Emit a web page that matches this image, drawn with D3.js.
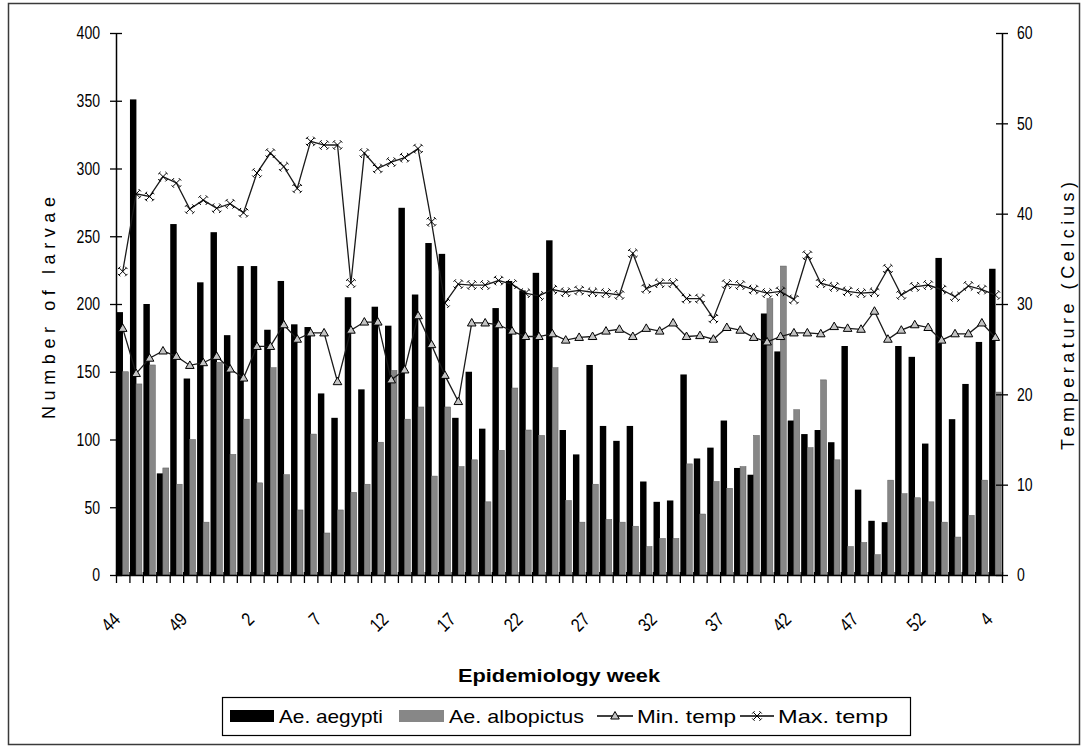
<!DOCTYPE html>
<html>
<head>
<meta charset="utf-8">
<script src="https://cdn.jsdelivr.net/npm/d3@7"></script>
<style>
  html, body { margin: 0; padding: 0; background: #fff; }
  svg { display: block; }
  text { fill: #000; font-family: "Liberation Sans", Arial, sans-serif; }
</style>
</head>
<body>
<svg id="chart" width="1084" height="752"></svg>
<script>
// Epidemiology weeks (week 44 through week 4 two years later)
const weeks = ["44","45","46","47","48","49","50","51","52",
  "1","2","3","4","5","6","7","8","9","10","11","12","13","14","15","16","17","18","19","20",
  "21","22","23","24","25","26","27","28","29","30","31","32","33","34","35","36","37","38","39","40",
  "41","42","43","44","45","46","47","48","49","50","51","52","53",
  "1","2","3","4"];

// Weekly larvae counts
const aegypti = [194,351,200,75,259,145,216,253,177,228,228,181,217,185,183,134,116,205,137,198,
  184,271,207,245,237,116,150,108,197,217,210,223,247,107,89,155,110,99,110,69,
  54,55,148,86,94,114,79,74,193,165,114,104,107,98,169,63,40,39,169,161,
  97,234,115,141,172,226];
const albopictus = [150,141,155,79,67,100,39,157,89,115,68,153,74,48,104,31,48,61,67,98,
  151,115,124,73,124,80,85,54,92,138,107,103,153,55,39,67,41,39,36,21,
  27,27,82,45,69,64,80,103,204,228,122,94,144,85,21,24,15,70,60,57,
  54,39,28,44,70,135];

// Weekly temperatures (Celcius)
const minTemp = [27.3,22.3,24.0,24.8,24.2,23.2,23.5,24.2,22.8,21.8,25.3,25.3,27.7,26.1,26.8,26.8,21.4,27.1,28.0,28.0,
  21.6,22.7,28.7,25.5,22.1,19.2,27.9,27.9,27.7,27.0,26.4,26.4,26.7,26.0,26.3,26.4,27.0,27.2,26.4,27.3,
  27.0,27.9,26.4,26.5,26.1,27.4,27.1,26.3,25.8,26.4,26.8,26.8,26.7,27.5,27.3,27.2,29.2,26.1,27.1,27.7,
  27.4,26.0,26.7,26.7,27.9,26.3];
const maxTemp = [33.6,42.2,41.9,44.1,43.4,40.5,41.5,40.6,41.1,40.1,44.5,46.7,45.2,42.8,48.0,47.6,47.6,32.3,46.7,45.0,
  45.7,46.2,47.2,39.1,30.1,32.2,32.1,32.1,32.6,32.2,31.2,30.9,31.6,31.3,31.5,31.3,31.2,31.0,35.6,31.7,
  32.3,32.3,30.6,30.6,28.4,32.2,32.1,31.6,31.2,31.4,30.5,35.4,32.3,31.9,31.4,31.2,31.3,33.9,31.0,31.9,
  32.1,31.6,30.8,32.0,31.6,31.0];

// Axis ticks
const larvaeTicks = [0,50,100,150,200,250,300,350,400];
const tempTicks = [0,10,20,30,40,50,60];
const weekTickIdx = [0,5,10,15,20,25,30,35,40,45,50,55,60,65];

const seriesNames = ["Ae. aegypti","Ae. albopictus","Min. temp","Max. temp"];

const svg = d3.select("#chart");
const plot = { left: 116, right: 1002, top: 33, bottom: 575 };

// squeeze text horizontally to imitate a narrow face
function condense(sel, f) {
  sel.each(function () {
    const L = this.getComputedTextLength();
    d3.select(this).attr("textLength", L * f).attr("lengthAdjust", "spacingAndGlyphs");
  });
}

// outer frame
svg.append("rect")
  .attr("x", 8.5).attr("y", 3.5).attr("width", 1071).attr("height", 741)
  .attr("fill", "#fff").attr("stroke", "#3a3a3a").attr("stroke-width", 1.5);

const idx = d3.range(weeks.length);
const x = d3.scaleBand().domain(idx).range([plot.left, plot.right]).padding(0);
const xEdge = d3.scaleLinear().domain([0, weeks.length]).range([plot.left, plot.right]);
const yL = d3.scaleLinear().domain([0, 400]).range([plot.bottom, plot.top]);
const yR = d3.scaleLinear().domain([0, 60]).range([plot.bottom, plot.top]);
const bw = x.bandwidth();
const cx = i => x(i) + bw / 2;

// bars
const bars = svg.append("g");
bars.selectAll("rect.aeg").data(idx).join("rect")
  .attr("class", "aeg")
  .attr("x", i => x(i) + bw * 0.04)
  .attr("width", bw * 0.48)
  .attr("y", i => yL(aegypti[i]))
  .attr("height", i => yL(0) - yL(aegypti[i]))
  .attr("fill", "#000");
bars.selectAll("rect.alb").data(idx).join("rect")
  .attr("class", "alb")
  .attr("x", i => x(i) + bw * 0.49)
  .attr("width", bw * 0.44)
  .attr("y", i => yL(albopictus[i]))
  .attr("height", i => yL(0) - yL(albopictus[i]))
  .attr("fill", "#878787")
  .attr("stroke", "#5a5a5a").attr("stroke-width", 0.5);

// temperature lines
const line = d3.line().x((d, i) => cx(i)).y(d => yR(d));
svg.append("path").datum(minTemp).attr("d", line)
  .attr("fill", "none").attr("stroke", "#1a1a1a").attr("stroke-width", 1.3);
svg.append("path").datum(maxTemp).attr("d", line)
  .attr("fill", "none").attr("stroke", "#1a1a1a").attr("stroke-width", 1.3);

const triPath = "M0,-4.5L4.3,3L-4.3,3Z";
const crossPath = "M-3.6,-3.6L3.6,3.6M-3.6,3.6L3.6,-3.6M-4.8,-2.4L-2.4,-4.8M2.4,-4.8L4.8,-2.4M-4.8,2.4L-2.4,4.8M2.4,4.8L4.8,2.4";

svg.append("g").selectAll("path").data(minTemp).join("path")
  .attr("d", triPath)
  .attr("transform", (d, i) => `translate(${cx(i)},${yR(d)})`)
  .attr("fill", "#c4c4c4").attr("stroke", "#000").attr("stroke-width", 1);
svg.append("g").selectAll("path").data(maxTemp).join("path")
  .attr("d", crossPath)
  .attr("transform", (d, i) => `translate(${cx(i)},${yR(d)})`)
  .attr("fill", "none").attr("stroke", "#000").attr("stroke-width", 1);

// left axis
const axL = svg.append("g").attr("transform", `translate(${plot.left},0)`)
  .call(d3.axisLeft(yL).tickValues(larvaeTicks).tickSize(6).tickSizeOuter(0).tickPadding(10));
axL.selectAll(".tick line").attr("x1", 6);
// right axis
const axR = svg.append("g").attr("transform", `translate(${plot.right},0)`)
  .call(d3.axisRight(yR).tickValues(tempTicks).tickSize(6).tickSizeOuter(0).tickPadding(9));
axR.selectAll(".tick line").attr("x1", -6);
// bottom axis (ticks on category boundaries)
const axB = svg.append("g").attr("transform", `translate(0,${plot.bottom})`)
  .call(d3.axisBottom(xEdge).tickValues(d3.range(weeks.length + 1)).tickSize(8).tickSizeOuter(0).tickFormat(""));
axB.selectAll(".tick line").attr("y1", -3);

[axL, axR, axB].forEach(a => {
  a.select(".domain").attr("stroke", "#000").attr("stroke-width", 1.5);
  a.selectAll(".tick line").attr("stroke", "#000").attr("stroke-width", 1.3);
  a.selectAll("text").attr("font-family", "Liberation Sans, Arial, sans-serif")
    .attr("font-size", 18).attr("fill", "#000");
});
condense(axL.selectAll("text"), 0.78);
condense(axR.selectAll("text"), 0.78);

// week labels
const wl = svg.append("g").selectAll("text").data(weekTickIdx).join("text")
  .attr("font-size", 19)
  .attr("text-anchor", "end")
  .attr("dy", "0.71em")
  .attr("transform", i => `translate(${cx(i) - 11},${611}) rotate(-45)`)
  .text(i => weeks[i]);
condense(wl, 0.82);

// axis titles
svg.append("text")
  .attr("font-size", 18).attr("font-weight", "bold")
  .attr("text-anchor", "middle")
  .attr("x", 559).attr("y", 682)
  .attr("textLength", 202).attr("lengthAdjust", "spacingAndGlyphs")
  .text("Epidemiology week");

svg.append("text")
  .attr("font-size", 18).attr("text-anchor", "middle")
  .attr("transform", "translate(55,308) rotate(-90)")
  .attr("textLength", 222).attr("lengthAdjust", "spacing")
  .text("Number of larvae");

svg.append("text")
  .attr("font-size", 18).attr("text-anchor", "middle")
  .attr("transform", "translate(1074,316) rotate(-90)")
  .attr("textLength", 268).attr("lengthAdjust", "spacing")
  .text("Temperature (Celcius)");

// legend
const lg = svg.append("g");
lg.append("rect").attr("x", 222.5).attr("y", 697.5).attr("width", 688).attr("height", 38)
  .attr("fill", "#fff").attr("stroke", "#000").attr("stroke-width", 1.2);
const ly = 716;
lg.append("rect").attr("x", 230).attr("y", ly - 6).attr("width", 44).attr("height", 12).attr("fill", "#000");
lg.append("rect").attr("x", 399).attr("y", ly - 6).attr("width", 45).attr("height", 12)
  .attr("fill", "#878787");
lg.append("line").attr("x1", 597).attr("x2", 633).attr("y1", ly).attr("y2", ly).attr("stroke", "#000").attr("stroke-width", 1.3);
lg.append("path").attr("d", triPath).attr("transform", `translate(615,${ly})`)
  .attr("fill", "#c4c4c4").attr("stroke", "#000");
lg.append("line").attr("x1", 740).attr("x2", 774).attr("y1", ly).attr("y2", ly).attr("stroke", "#000").attr("stroke-width", 1.3);
lg.append("path").attr("d", crossPath).attr("transform", `translate(757,${ly})`)
  .attr("fill", "none").attr("stroke", "#000").attr("stroke-width", 1);

const legendText = [
  { name: seriesNames[0], x: 279, len: 104 },
  { name: seriesNames[1], x: 449, len: 135 },
  { name: seriesNames[2], x: 637, len: 99 },
  { name: seriesNames[3], x: 778, len: 110 }
];
lg.selectAll("text.lt").data(legendText).join("text")
  .attr("class", "lt")
  .attr("font-size", 19)
  .attr("x", d => d.x).attr("y", ly + 7)
  .attr("textLength", d => d.len).attr("lengthAdjust", "spacingAndGlyphs")
  .text(d => d.name);
</script>
</body>
</html>
